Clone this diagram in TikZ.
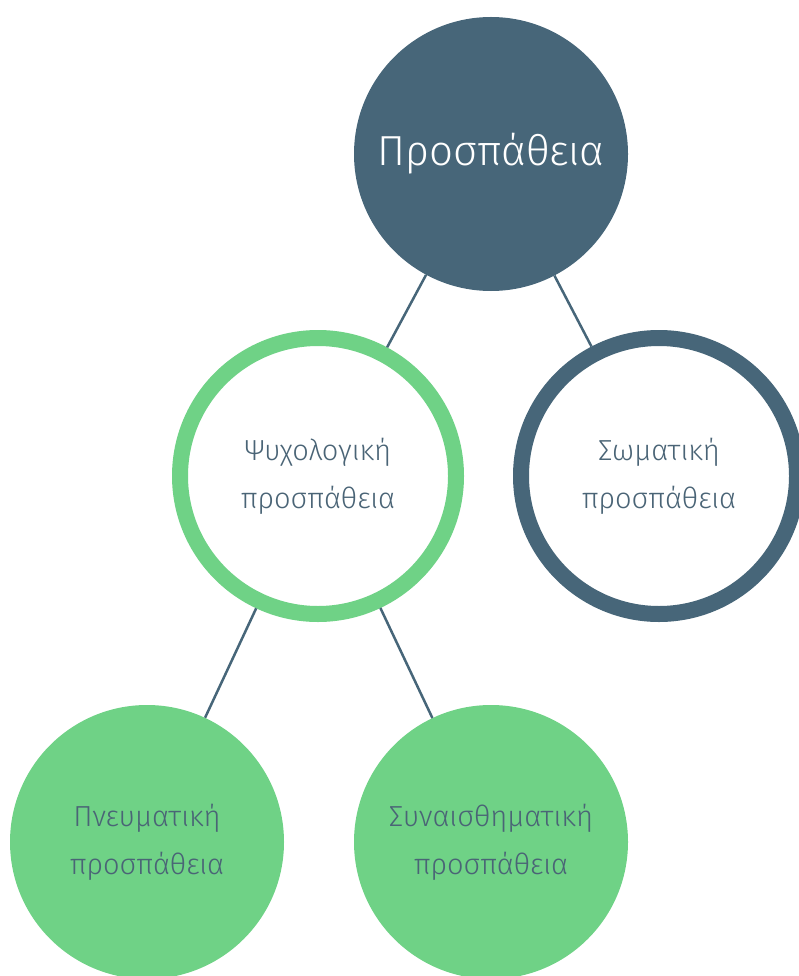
\documentclass[tikz,border=0pt]{standalone}
\usepackage{fontspec}
\setmainfont{Fira Sans Light}
\usepackage{xcolor}
\definecolor{slateblue}{RGB}{71, 102, 121}
\definecolor{leafgreen}{RGB}{111, 210, 134}
\definecolor{labelgray}{RGB}{74, 100, 118}
\usepackage{tikz}
\usetikzlibrary{positioning}
\tikzstyle{branch} = [
    draw=slateblue,
    line width=2.5pt
]

\begin{document}
\begin{tikzpicture}[
    x=1pt, y=-1pt,
    rootnode/.style={circle, fill=slateblue, minimum size=274pt, inner sep=0pt, text=white, font=\fontsize{42}{50}\selectfont},
    ringnode/.style={circle, draw=#1, fill=white, line width=16pt, minimum size=276pt, inner sep=0pt, text=labelgray, align=center, font=\fontsize{29}{48}\selectfont},
    leafnode/.style={circle, fill=leafgreen, minimum size=274pt, inner sep=0pt, text=labelgray, align=center, font=\fontsize{29}{48}\selectfont}
]
    \useasboundingbox (0,0) rectangle (799,976);

    % Root
    \node[rootnode] (effort) at (491,154) {Προσπάθεια};

    % Second level
    \node[ringnode=leafgreen] (psych) at (318,476) {Ψυχολογική\\προσπάθεια};
    \node[ringnode=slateblue] (body) at (659,476) {Σωματική\\προσπάθεια};

    % Third level
    \node[leafnode] (spirit) at (147,842) {Πνευματική\\προσπάθεια};
    \node[leafnode] (emotion) at (491,842) {Συναισθηματική\\προσπάθεια};

    % Branches
    \draw[branch] (effort) -- (psych);
    \draw[branch] (effort) -- (body);
    \draw[branch] (psych) -- (spirit);
    \draw[branch] (psych) -- (emotion);

\end{tikzpicture}
\end{document}
